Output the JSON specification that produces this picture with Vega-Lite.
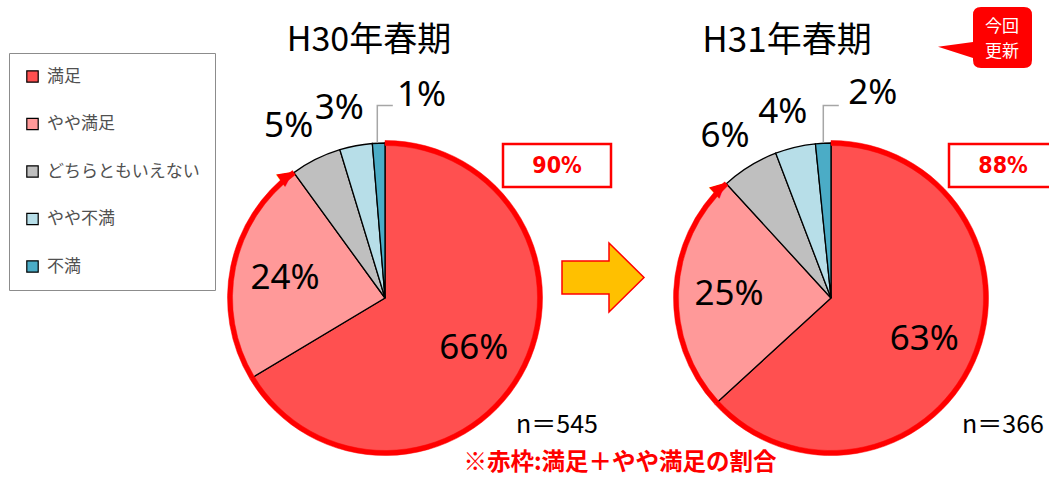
{
  "$schema": "https://vega.github.io/schema/vega-lite/v6.json",
  "width": 1049,
  "height": 360,
  "autosize": {"type": "none"},
  "padding": {"left": 0, "right": 0, "top": 118, "bottom": 0},
  "background": "white",
  "config": {"view": {"stroke": null}, "font": "Noto Sans CJK JP"},
  "datasets": {
    "answers": [
      {"period": "H30年春期", "category": "満足", "rank": 1, "share": 0.664},
      {"period": "H30年春期", "category": "やや満足", "rank": 2, "share": 0.236},
      {"period": "H30年春期", "category": "どちらともいえない", "rank": 3, "share": 0.053},
      {"period": "H30年春期", "category": "やや不満", "rank": 4, "share": 0.034},
      {"period": "H30年春期", "category": "不満", "rank": 5, "share": 0.013},
      {"period": "H31年春期", "category": "満足", "rank": 1, "share": 0.632},
      {"period": "H31年春期", "category": "やや満足", "rank": 2, "share": 0.25},
      {"period": "H31年春期", "category": "どちらともいえない", "rank": 3, "share": 0.06},
      {"period": "H31年春期", "category": "やや不満", "rank": 4, "share": 0.042},
      {"period": "H31年春期", "category": "不満", "rank": 5, "share": 0.016}
    ],
    "periods": [
      {"period": "H30年春期", "sample": "n＝545"},
      {"period": "H31年春期", "sample": "n＝366"}
    ]
  },
  "layer": [
    {
      "data": {"name": "answers"},
      "transform": [{"filter": {"field": "period", "equal": "H30年春期"}}],
      "mark": {"type": "arc", "outerRadius": 155, "stroke": "black", "strokeWidth": 1.3},
      "encoding": {
        "x": {"field": "period", "type": "nominal", "scale": {"type": "point", "domain": ["H30年春期", "H31年春期"], "range": [385, 831], "padding": 0}, "axis": null},
        "theta": {"field": "share", "type": "quantitative", "stack": true, "scale": {"domain": [0, 1]}},
        "color": {
          "field": "category", "type": "nominal",
          "scale": {"domain": ["満足", "やや満足", "どちらともいえない", "やや不満", "不満"], "range": ["#FF5050", "#FF9999", "#BFBFBF", "#B7DEE8", "#4BACC6"]},
          "legend": {"title": null, "orient": "none", "legendX": 9, "legendY": -65, "symbolType": "square", "symbolSize": 130, "symbolStrokeColor": "black", "symbolStrokeWidth": 1.2, "labelFontSize": 17, "labelLimit": 300, "labelColor": "#505050", "labelFont": "Noto Sans CJK JP", "rowPadding": 29.5, "labelOffset": 6, "padding": 15, "strokeColor": "#8c8c8c", "fillColor": "white", "direction": "vertical"}
        },
        "order": {"field": "rank", "type": "quantitative"}
      }
    },
    {
      "data": {"name": "answers"},
      "transform": [{"filter": {"field": "period", "equal": "H31年春期"}}],
      "mark": {"type": "arc", "outerRadius": 155, "stroke": "black", "strokeWidth": 1.3},
      "encoding": {
        "x": {"field": "period", "type": "nominal", "scale": {"type": "point", "domain": ["H30年春期", "H31年春期"], "range": [385, 831], "padding": 0}, "axis": null},
        "theta": {"field": "share", "type": "quantitative", "stack": true, "scale": {"domain": [0, 1]}},
        "color": {
          "field": "category", "type": "nominal",
          "scale": {"domain": ["満足", "やや満足", "どちらともいえない", "やや不満", "不満"], "range": ["#FF5050", "#FF9999", "#BFBFBF", "#B7DEE8", "#4BACC6"]},
          "legend": {"title": null, "orient": "none", "legendX": 9, "legendY": -65, "symbolType": "square", "symbolSize": 130, "symbolStrokeColor": "black", "symbolStrokeWidth": 1.2, "labelFontSize": 17, "labelLimit": 300, "labelColor": "#505050", "labelFont": "Noto Sans CJK JP", "rowPadding": 29.5, "labelOffset": 6, "padding": 15, "strokeColor": "#8c8c8c", "fillColor": "white", "direction": "vertical"}
        },
        "order": {"field": "rank", "type": "quantitative"}
      }
    },
    {
      "data": {"name": "answers"},
      "transform": [{"filter": {"field": "period", "equal": "H30年春期"}}, {"filter": {"field": "category", "oneOf": ["満足", "やや満足"]}}],
      "mark": {"type": "arc", "outerRadius": 157.5, "innerRadius": 152.5, "fill": "#FF0000", "stroke": "#FF0000", "strokeWidth": 0.5},
      "encoding": {
        "x": {"field": "period", "type": "nominal", "scale": {"type": "point", "domain": ["H30年春期", "H31年春期"], "range": [385, 831], "padding": 0}, "axis": null},
        "theta": {"field": "share", "type": "quantitative", "stack": true, "scale": {"domain": [0, 1]}},
        "detail": {"field": "category"},
        "order": {"field": "rank", "type": "quantitative"}
      }
    },
    {
      "data": {"name": "answers"},
      "transform": [{"filter": {"field": "period", "equal": "H31年春期"}}, {"filter": {"field": "category", "oneOf": ["満足", "やや満足"]}}],
      "mark": {"type": "arc", "outerRadius": 157.5, "innerRadius": 152.5, "fill": "#FF0000", "stroke": "#FF0000", "strokeWidth": 0.5},
      "encoding": {
        "x": {"field": "period", "type": "nominal", "scale": {"type": "point", "domain": ["H30年春期", "H31年春期"], "range": [385, 831], "padding": 0}, "axis": null},
        "theta": {"field": "share", "type": "quantitative", "stack": true, "scale": {"domain": [0, 1]}},
        "detail": {"field": "category"},
        "order": {"field": "rank", "type": "quantitative"}
      }
    },
    {
      "data": {"name": "periods"},
      "mark": {"type": "point", "shape": "M-0.077,-1.555 L-0.077,-1.925 L0.078,-1.925", "size": 40000, "filled": false, "stroke": "#A6A6A6", "strokeWidth": 1.5, "opacity": 1},
      "encoding": {
        "x": {"field": "period", "type": "nominal", "scale": {"type": "point", "domain": ["H30年春期", "H31年春期"], "range": [385, 831], "padding": 0}, "axis": null}
      }
    },
    {
      "data": {"name": "answers"},
      "transform": [{"filter": {"field": "period", "equal": "H30年春期"}}],
      "mark": {"type": "text", "radius": 102, "fontSize": 35, "font": "Noto Sans", "color": "black"},
      "encoding": {
        "x": {"field": "period", "type": "nominal", "scale": {"type": "point", "domain": ["H30年春期", "H31年春期"], "range": [385, 831], "padding": 0}, "axis": null},
        "theta": {"field": "share", "type": "quantitative", "stack": true, "scale": {"domain": [0, 1]}},
        "detail": {"field": "category"},
        "order": {"field": "rank", "type": "quantitative"},
        "text": {"field": "share", "type": "quantitative", "format": ".0%"},
        "opacity": {"condition": {"test": "datum.rank <= 2", "value": 1}, "value": 0}
      }
    },
    {
      "data": {"name": "answers"},
      "transform": [{"filter": {"field": "period", "equal": "H30年春期"}}],
      "mark": {"type": "text", "radius": 196, "dx": -9, "dy": 3, "fontSize": 35, "font": "Noto Sans", "color": "black"},
      "encoding": {
        "x": {"field": "period", "type": "nominal", "scale": {"type": "point", "domain": ["H30年春期", "H31年春期"], "range": [385, 831], "padding": 0}, "axis": null},
        "theta": {"field": "share", "type": "quantitative", "stack": true, "scale": {"domain": [0, 1]}},
        "detail": {"field": "category"},
        "order": {"field": "rank", "type": "quantitative"},
        "text": {"field": "share", "type": "quantitative", "format": ".0%"},
        "opacity": {"condition": {"test": "datum.rank == 3 || datum.rank == 4", "value": 1}, "value": 0}
      }
    },
    {
      "data": {"name": "answers"},
      "transform": [{"filter": {"field": "period", "equal": "H30年春期"}}],
      "mark": {"type": "text", "radius": 205, "dx": 45, "dy": 2, "fontSize": 35, "font": "Noto Sans", "color": "black"},
      "encoding": {
        "x": {"field": "period", "type": "nominal", "scale": {"type": "point", "domain": ["H30年春期", "H31年春期"], "range": [385, 831], "padding": 0}, "axis": null},
        "theta": {"field": "share", "type": "quantitative", "stack": true, "scale": {"domain": [0, 1]}},
        "detail": {"field": "category"},
        "order": {"field": "rank", "type": "quantitative"},
        "text": {"field": "share", "type": "quantitative", "format": ".0%"},
        "opacity": {"condition": {"test": "datum.rank == 5", "value": 1}, "value": 0}
      }
    },
    {
      "data": {"name": "answers"},
      "transform": [{"filter": {"field": "period", "equal": "H31年春期"}}],
      "mark": {"type": "text", "radius": 102, "fontSize": 35, "font": "Noto Sans", "color": "black"},
      "encoding": {
        "x": {"field": "period", "type": "nominal", "scale": {"type": "point", "domain": ["H30年春期", "H31年春期"], "range": [385, 831], "padding": 0}, "axis": null},
        "theta": {"field": "share", "type": "quantitative", "stack": true, "scale": {"domain": [0, 1]}},
        "detail": {"field": "category"},
        "order": {"field": "rank", "type": "quantitative"},
        "text": {"field": "share", "type": "quantitative", "format": ".0%"},
        "opacity": {"condition": {"test": "datum.rank <= 2", "value": 1}, "value": 0}
      }
    },
    {
      "data": {"name": "answers"},
      "transform": [{"filter": {"field": "period", "equal": "H31年春期"}}],
      "mark": {"type": "text", "radius": 196, "dx": -3, "dy": 5, "fontSize": 35, "font": "Noto Sans", "color": "black"},
      "encoding": {
        "x": {"field": "period", "type": "nominal", "scale": {"type": "point", "domain": ["H30年春期", "H31年春期"], "range": [385, 831], "padding": 0}, "axis": null},
        "theta": {"field": "share", "type": "quantitative", "stack": true, "scale": {"domain": [0, 1]}},
        "detail": {"field": "category"},
        "order": {"field": "rank", "type": "quantitative"},
        "text": {"field": "share", "type": "quantitative", "format": ".0%"},
        "opacity": {"condition": {"test": "datum.rank == 3 || datum.rank == 4", "value": 1}, "value": 0}
      }
    },
    {
      "data": {"name": "answers"},
      "transform": [{"filter": {"field": "period", "equal": "H31年春期"}}],
      "mark": {"type": "text", "radius": 205, "dx": 52, "dy": 0, "fontSize": 35, "font": "Noto Sans", "color": "black"},
      "encoding": {
        "x": {"field": "period", "type": "nominal", "scale": {"type": "point", "domain": ["H30年春期", "H31年春期"], "range": [385, 831], "padding": 0}, "axis": null},
        "theta": {"field": "share", "type": "quantitative", "stack": true, "scale": {"domain": [0, 1]}},
        "detail": {"field": "category"},
        "order": {"field": "rank", "type": "quantitative"},
        "text": {"field": "share", "type": "quantitative", "format": ".0%"},
        "opacity": {"condition": {"test": "datum.rank == 5", "value": 1}, "value": 0}
      }
    },
    {
      "data": {"name": "answers"},
      "transform": [{"filter": {"field": "category", "oneOf": ["満足", "やや満足"]}}, {"aggregate": [{"op": "sum", "field": "share", "as": "satisfied"}], "groupby": ["period"]}],
      "mark": {"type": "text", "text": "▶", "radius": 157, "align": "right", "baseline": "middle", "fontSize": 20, "font": "DejaVu Sans", "color": "#FF0000"},
      "encoding": {
        "x": {"field": "period", "type": "nominal", "scale": {"type": "point", "domain": ["H30年春期", "H31年春期"], "range": [385, 831], "padding": 0}, "axis": null},
        "theta": {"field": "satisfied", "type": "quantitative", "stack": null, "scale": {"domain": [0, 1]}},
        "angle": {"field": "satisfied", "type": "quantitative", "scale": {"domain": [0, 1], "range": [0, 360]}, "legend": null}
      }
    },
    {
      "data": {"name": "periods"},
      "mark": {"type": "point", "shape": "M1.18,-1.54 L2.26,-1.54 L2.26,-1.11 L1.18,-1.11 Z", "size": 40000, "filled": true, "fill": "white", "stroke": "#FF0000", "strokeWidth": 2.5, "opacity": 1},
      "encoding": {
        "x": {"field": "period", "type": "nominal", "scale": {"type": "point", "domain": ["H30年春期", "H31年春期"], "range": [385, 831], "padding": 0}, "axis": null}
      }
    },
    {
      "data": {"name": "answers"},
      "transform": [{"filter": {"field": "category", "oneOf": ["満足", "やや満足"]}}, {"aggregate": [{"op": "sum", "field": "share", "as": "satisfied"}], "groupby": ["period"]}],
      "mark": {"type": "text", "dx": 172, "dy": -132, "fontSize": 23, "font": "'DejaVu Sans Condensed', 'Liberation Sans', sans-serif", "fontWeight": "bold", "color": "#FF0000"},
      "encoding": {
        "x": {"field": "period", "type": "nominal", "scale": {"type": "point", "domain": ["H30年春期", "H31年春期"], "range": [385, 831], "padding": 0}, "axis": null},
        "text": {"field": "satisfied", "type": "quantitative", "format": ".0%"}
      }
    },
    {
      "data": {"name": "periods"},
      "mark": {"type": "text", "dx": 172, "dy": 127, "fontSize": 25, "font": "Noto Sans CJK JP", "color": "black"},
      "encoding": {
        "x": {"field": "period", "type": "nominal", "scale": {"type": "point", "domain": ["H30年春期", "H31年春期"], "range": [385, 831], "padding": 0}, "axis": null},
        "text": {"field": "sample", "type": "nominal"}
      }
    },
    {
      "data": {"name": "periods"},
      "transform": [{"filter": {"field": "period", "equal": "H30年春期"}}],
      "mark": {"type": "text", "dx": -16, "dy": -257, "fontSize": 34, "font": "Noto Sans CJK JP", "color": "black"},
      "encoding": {
        "x": {"field": "period", "type": "nominal", "scale": {"type": "point", "domain": ["H30年春期", "H31年春期"], "range": [385, 831], "padding": 0}, "axis": null},
        "text": {"field": "period", "type": "nominal"}
      }
    },
    {
      "data": {"name": "periods"},
      "transform": [{"filter": {"field": "period", "equal": "H31年春期"}}],
      "mark": {"type": "text", "dx": -44, "dy": -257, "fontSize": 35, "font": "Noto Sans CJK JP", "color": "black"},
      "encoding": {
        "x": {"field": "period", "type": "nominal", "scale": {"type": "point", "domain": ["H30年春期", "H31年春期"], "range": [385, 831], "padding": 0}, "axis": null},
        "text": {"field": "period", "type": "nominal"}
      }
    },
    {
      "data": {"name": "periods"},
      "transform": [{"filter": {"field": "period", "equal": "H30年春期"}}],
      "mark": {"type": "point", "shape": "M1.77,-0.37 L2.24,-0.37 L2.24,-0.55 L2.59,-0.205 L2.24,0.14 L2.24,-0.04 L1.77,-0.04 Z", "size": 40000, "filled": true, "fill": "#FFC000", "stroke": "#FF0000", "strokeWidth": 1.5, "opacity": 1},
      "encoding": {
        "x": {"field": "period", "type": "nominal", "scale": {"type": "point", "domain": ["H30年春期", "H31年春期"], "range": [385, 831], "padding": 0}, "axis": null}
      }
    },
    {
      "data": {"name": "periods"},
      "transform": [{"filter": {"field": "period", "equal": "H30年春期"}}],
      "mark": {"type": "text", "text": "※赤枠:満足＋やや満足の割合", "dx": 235, "dy": 165, "fontSize": 23.5, "font": "Noto Sans CJK JP", "fontWeight": "bold", "color": "#FF0000"},
      "encoding": {
        "x": {"field": "period", "type": "nominal", "scale": {"type": "point", "domain": ["H30年春期", "H31年春期"], "range": [385, 831], "padding": 0}, "axis": null}
      }
    },
    {
      "data": {"name": "periods"},
      "transform": [{"filter": {"field": "period", "equal": "H31年春期"}}],
      "mark": {"type": "point", "shape": "M1.42,-2.83 Q1.42,-2.91 1.50,-2.91 L1.93,-2.91 Q2.01,-2.91 2.01,-2.83 L2.01,-2.38 Q2.01,-2.30 1.93,-2.30 L1.50,-2.30 Q1.42,-2.30 1.42,-2.38 L1.42,-2.40 L1.07,-2.513 L1.42,-2.56 Z", "size": 40000, "filled": true, "fill": "#FF0000", "strokeWidth": 0, "opacity": 1},
      "encoding": {
        "x": {"field": "period", "type": "nominal", "scale": {"type": "point", "domain": ["H30年春期", "H31年春期"], "range": [385, 831], "padding": 0}, "axis": null}
      }
    },
    {
      "data": {"name": "periods"},
      "transform": [{"filter": {"field": "period", "equal": "H31年春期"}}],
      "mark": {"type": "text", "text": "今回\n更新", "lineBreak": "\n", "lineHeight": 25, "dx": 171, "dy": -271, "fontSize": 17, "font": "Noto Sans CJK JP", "color": "white"},
      "encoding": {
        "x": {"field": "period", "type": "nominal", "scale": {"type": "point", "domain": ["H30年春期", "H31年春期"], "range": [385, 831], "padding": 0}, "axis": null}
      }
    }
  ]
}
